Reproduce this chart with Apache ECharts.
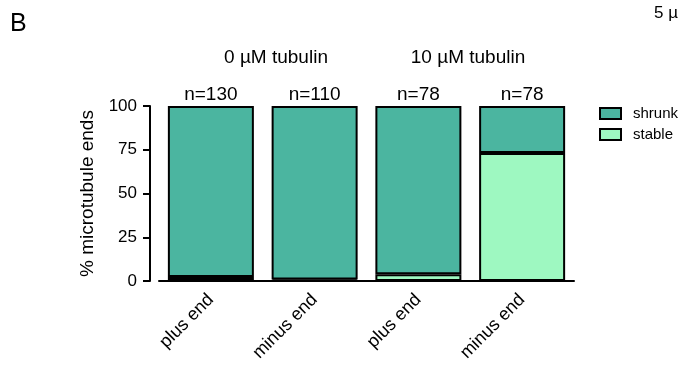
<!DOCTYPE html>
<html>
<head>
<meta charset="utf-8">
<script src="https://cdn.jsdelivr.net/npm/echarts@6/dist/echarts.min.js"></script>
<style>
  html, body { margin: 0; padding: 0; background: #fff; }
  #chart { width: 684px; height: 368px; }
</style>
</head>
<body>
<div id="chart"></div>
<script>
// Microtubule end fate, percent of ends
const categories = ['plus end', 'minus end', 'plus end', 'minus end'];
const counts = ['n=130', 'n=110', 'n=78', 'n=78'];
const stable = [2.3, 0.9, 3.8, 73.1];
const shrunk = [97.7, 99.1, 96.2, 26.9];
const yTicks = [0, 25, 50, 75, 100];
const conditions = ['0 µM tubulin', '10 µM tubulin'];

const FONT = 'Liberation Sans, Arial, sans-serif';
const chart = echarts.init(document.getElementById('chart'));

chart.setOption({
  animation: false,
  backgroundColor: '#fff',
  textStyle: { fontFamily: FONT, color: '#000' },
  grid: { left: 159, right: 110, top: 106, bottom: 87 },
  legend: {
    orient: 'vertical',
    left: 594,
    top: 101,
    icon: 'rect',
    itemWidth: 21,
    itemHeight: 11,
    itemGap: 6,
    data: ['shrunk', 'stable'],
    textStyle: { fontFamily: FONT, fontSize: 15, color: '#000', padding: [0, 0, 0, 7] },
    itemStyle: { borderColor: '#000', borderWidth: 2 }
  },
  xAxis: {
    type: 'category',
    data: categories,
    axisLine: { lineStyle: { color: '#000', width: 2 } },
    axisTick: { alignWithLabel: true, length: 5, lineStyle: { color: '#000', width: 2 } },
    axisLabel: { rotate: 45, fontSize: 18, color: '#000', fontFamily: FONT, margin: 16 }
  },
  yAxis: {
    type: 'value',
    min: 0,
    max: 100,
    interval: 25,
    offset: 9,
    name: '% microtubule ends',
    nameLocation: 'middle',
    nameGap: 46,
    nameTextStyle: { fontSize: 19, color: '#000', fontFamily: FONT },
    axisLine: { show: true, lineStyle: { color: '#000', width: 2 } },
    axisTick: { show: true, length: 7, lineStyle: { color: '#000', width: 2 } },
    axisLabel: {
      fontSize: 17, color: '#000', fontFamily: FONT, margin: 13,
      formatter: v => (yTicks.includes(v) ? String(v) : '')
    },
    splitLine: { show: false }
  },
  series: [
    {
      name: 'stable',
      type: 'bar',
      stack: 'fate',
      barWidth: 86,
      data: stable,
      itemStyle: { color: '#9ef8c1', borderColor: '#000', borderWidth: 2 }
    },
    {
      name: 'shrunk',
      type: 'bar',
      stack: 'fate',
      barWidth: 86,
      data: shrunk,
      itemStyle: { color: '#4bb5a0', borderColor: '#000', borderWidth: 2 },
      label: {
        show: true,
        position: 'top',
        distance: 2,
        fontSize: 19,
        color: '#000',
        fontFamily: FONT,
        formatter: p => counts[p.dataIndex]
      }
    }
  ],
  graphic: [
    { type: 'text', left: 10, top: 12, style: { text: 'B', fontSize: 25, fontFamily: FONT, fill: '#000' } },
    { type: 'text', left: 654, top: 5, style: { text: '5 µ', fontSize: 17, fontFamily: FONT, fill: '#000' } },
    { type: 'text', x: 276, y: 48, style: { text: conditions[0], fontSize: 19, fontFamily: FONT, fill: '#000', align: 'center' } },
    { type: 'text', x: 468, y: 48, style: { text: conditions[1], fontSize: 19, fontFamily: FONT, fill: '#000', align: 'center' } }
  ]
});
</script>
</body>
</html>
